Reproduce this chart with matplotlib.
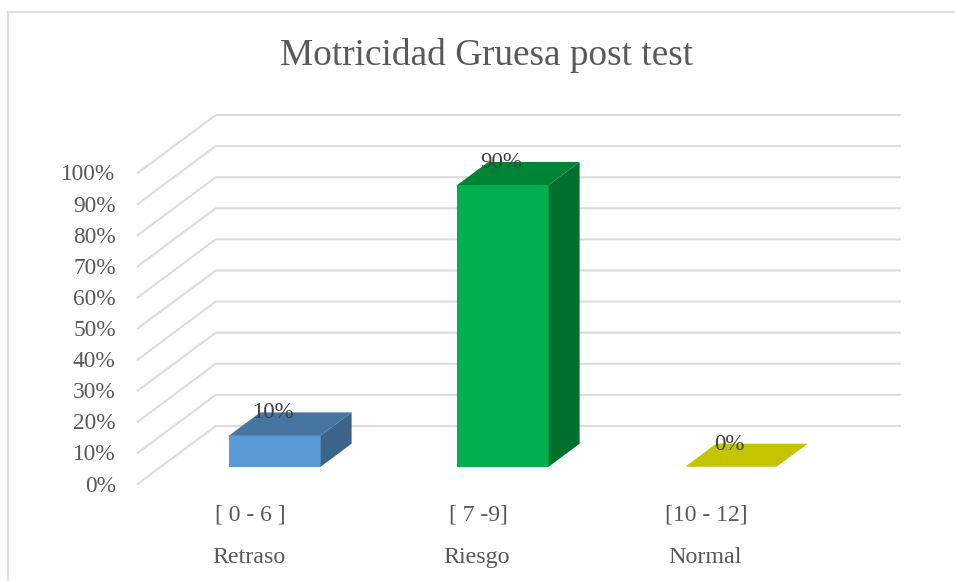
import matplotlib
matplotlib.use("Agg")
import matplotlib.pyplot as plt
from matplotlib.lines import Line2D
from matplotlib.patches import Polygon

categories = ["[ 0 - 6 ]", "[ 7 -9]", "[10 - 12]"]
levels = ["Retraso", "Riesgo", "Normal"]
values = [10, 90, 0]
value_labels = ["10%", "90%", "0%"]
y_ticks = [0, 10, 20, 30, 40, 50, 60, 70, 80, 90, 100]

front_colors = ["#5b9bd5", "#00b050", "#c4c400"]
top_colors = ["#4675a2", "#008537", "#c4c400"]
side_colors = ["#3a6489", "#00702f", "#c4c400"]

W, H = 955, 581
plt.rcParams["font.family"] = ["Liberation Serif", "DejaVu Serif"]
fig = plt.figure(figsize=(W / 100, H / 100), dpi=100)
ax = fig.add_axes([0, 0, 1, 1])

# pixels per unit on each scale
PX_CAT, PX_VAL = 228.0, 3.11
X0, Y0 = 251.7, 484.0
ax.set_xlim(-X0 / PX_CAT, (W - X0) / PX_CAT)
ax.set_ylim((Y0 - H) / PX_VAL, Y0 / PX_VAL)
ax.axis("off")

DX = 78 / PX_CAT      # horizontal shift of the back wall
DY = 58 / PX_VAL      # vertical shift of the back wall
FIRST, LAST = -0.5, 2.5
BAR_W = 0.401
D_FRONT, D_BACK = 0.298, 0.695
BAR_SCALE = 3.13 / 3.11


def proj(c, v, d):
    return c + DX * d, v + DY * d


# chart frame: only the top and left edges are inside the picture
frame_x = [7.5 / W, 7.5 / W, 1]
frame_y = [0, 1 - 11.5 / H, 1 - 11.5 / H]
fig.add_artist(Line2D(frame_x, frame_y, transform=fig.transFigure, color="#dedede",
                      lw=1.6, solid_joinstyle="miter"))

# gridlines: side wall + back wall
for t in y_ticks:
    pts = [proj(FIRST, t, 0), proj(FIRST, t, 1), proj(LAST, t, 1)]
    ax.plot(*zip(*pts), color="#dcdcdc", lw=1.5, solid_joinstyle="miter", zorder=1)
    x, y = proj(FIRST, t, 0)
    ax.annotate(f"{t}%", (x, y), xytext=(-22, -2), textcoords="offset pixels",
                ha="right", va="center", fontsize=16.8, color="#595959")

# bars
for i, v in enumerate(values):
    l, r = i - BAR_W / 2, i + BAR_W / 2
    h = v * BAR_SCALE
    front = [proj(l, 0, D_FRONT), proj(r, 0, D_FRONT), proj(r, h, D_FRONT), proj(l, h, D_FRONT)]
    top = [proj(l, h, D_FRONT), proj(r, h, D_FRONT), proj(r, h, D_BACK), proj(l, h, D_BACK)]
    side = [proj(r, 0, D_FRONT), proj(r, 0, D_BACK), proj(r, h, D_BACK), proj(r, h, D_FRONT)]
    if v > 0:
        ax.add_patch(Polygon(front, closed=True, fc=front_colors[i], ec="none", zorder=3))
        ax.add_patch(Polygon(side, closed=True, fc=side_colors[i], ec="none", zorder=3))
    ax.add_patch(Polygon(top, closed=True, fc=top_colors[i], ec="none", zorder=3))
    cx, cy = proj(i, h, D_FRONT)
    ax.annotate(value_labels[i], (cx, cy), xytext=(-2, 22.5), textcoords="offset pixels",
                ha="center", va="center", fontsize=16.5, color="#404040", zorder=5)

# category labels (two levels)
for i, (c, lv) in enumerate(zip(categories, levels)):
    x, y = proj(i, 0, 0)
    ax.annotate(c, (x, y), xytext=(-1, -36), textcoords="offset pixels",
                ha="center", va="baseline", fontsize=17, color="#595959")
    ax.annotate(lv, (x, y), xytext=(-3, -79), textcoords="offset pixels",
                ha="center", va="baseline", fontsize=17.3, color="#595959")

fig.text(487 / W, 1 - 55.5 / H, "Motricidad Gruesa post test", ha="center", va="center",
         fontsize=26.8, color="#595959")

fig.savefig("out.png", dpi=100, facecolor="white")
